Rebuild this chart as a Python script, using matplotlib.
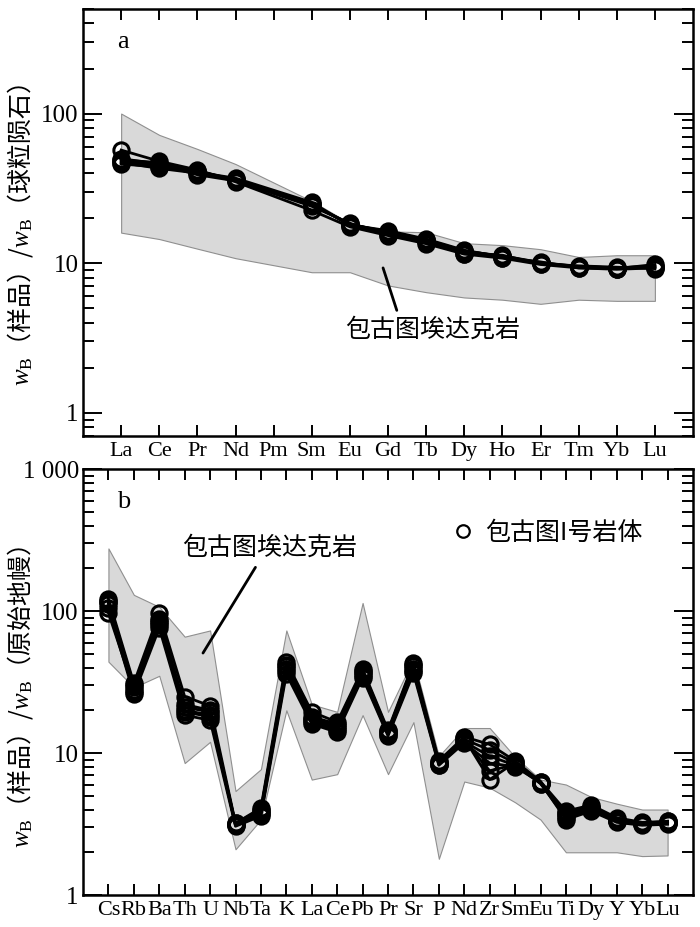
import numpy as np
import matplotlib
matplotlib.use('Agg')
import matplotlib.pyplot as plt
from matplotlib.lines import Line2D
from matplotlib.ticker import FixedLocator, FixedFormatter, LogLocator, NullFormatter

plt.rcParams['font.family'] = ['Liberation Serif', 'Noto Sans CJK SC']
plt.rcParams['mathtext.fontset'] = 'custom'
plt.rcParams['mathtext.it'] = 'Liberation Serif:italic'
plt.rcParams['mathtext.rm'] = 'Liberation Serif'

# ---- panel a: REE, chondrite normalised (Pm has no data) ----
ree = ['La', 'Ce', 'Pr', 'Nd', 'Pm', 'Sm', 'Eu', 'Gd', 'Tb', 'Dy', 'Ho', 'Er', 'Tm', 'Yb', 'Lu']
nan = np.nan
ree_s1 = [57, 48, 42, 35, nan, 22.5, 17.5, 15.3, 13.5, 11.5, 10.8, 9.8, 9.3, 9.1, 9.3]
ree_s2 = [48, 45, 41, 36, nan, 24.5, 18.3, 16.0, 14.2, 12.0, 11.2, 10.1, 9.5, 9.3, 9.6]
ree_s3 = [47, 43, 40, 36.5, nan, 25.0, 18.0, 16.5, 14.5, 12.2, 11.0, 10.0, 9.4, 9.2, 9.8]
ree_s4 = [50, 46, 39, 35.5, nan, 24.0, 18.5, 15.5, 13.8, 11.6, 11.3, 9.9, 9.6, 9.4, 9.2]
ree_s5 = [46, 44, 40.5, 37, nan, 25.5, 17.8, 15.8, 14.0, 11.9, 10.9, 10.2, 9.3, 9.2, 9.5]
ree_s6 = [49, 47, 41.5, 36, nan, 24.8, 18.2, 16.2, 14.3, 12.1, 11.1, 10.0, 9.5, 9.3, 9.4]
ree_hi = [100, 72, 58, 46, nan, 26, 18.5, 16.3, 16.1, 13.6, 13.2, 12.4, 11.0, 11.3, 11.3]
ree_lo = [16, 14.5, 12.5, 10.8, nan, 8.7, 8.7, 7.1, 6.4, 5.9, 5.7, 5.35, 5.7, 5.6, 5.6]

# ---- panel b: spider diagram, primitive mantle normalised ----
spd = ['Cs', 'Rb', 'Ba', 'Th', 'U', 'Nb', 'Ta', 'K', 'La', 'Ce', 'Pb', 'Pr', 'Sr', 'P',
       'Nd', 'Zr', 'Sm', 'Eu', 'Ti', 'Dy', 'Y', 'Yb', 'Lu']
spd_s1 = [122, 31, 97, 25, 21.5, 3.2, 4.1, 44, 19.5, 16.5, 39, 14.5, 43, 8.8, 13.0, 11.5, 8.8, 6.3, 3.9, 4.3, 3.5, 3.25, 3.3]
spd_s2 = [118, 29, 88, 21, 19.5, 3.1, 3.8, 41, 17.5, 15.5, 37, 14.0, 41, 8.5, 12.5, 10.5, 8.5, 6.2, 3.7, 4.1, 3.35, 3.2, 3.25]
spd_s3 = [112, 27, 82, 19.5, 18, 3.15, 3.7, 38, 16.5, 14.5, 35, 13.5, 38, 8.3, 12.0, 9.5, 8.2, 6.1, 3.5, 4.0, 3.3, 3.15, 3.2]
spd_s4 = [105, 26, 76, 18.5, 17, 3.05, 3.6, 36, 16.0, 14.0, 34, 13.2, 36.5, 8.2, 11.8, 8.5, 8.0, 6.2, 3.4, 3.9, 3.25, 3.1, 3.15]
spd_s5 = [97, 28, 80, 20, 18.5, 3.2, 4.0, 39, 17.0, 15.0, 36, 13.8, 39, 8.6, 12.2, 7.5, 8.3, 6.3, 3.6, 4.1, 3.4, 3.2, 3.3]
spd_s6 = [115, 30, 85, 22, 20, 3.1, 3.9, 42, 18.0, 16.0, 38, 14.2, 42, 8.4, 12.7, 6.5, 8.6, 6.1, 3.8, 4.2, 3.3, 3.15, 3.2]
spd_hi = [276, 130, 107, 66, 73, 5.4, 7.7, 73, 22, 19.5, 114, 19.5, 46, 9.5, 15, 15, 9.4, 6.5, 6.0, 4.9, 4.4, 4.0, 4.0]
spd_lo = [44, 29, 35, 8.5, 12, 2.1, 3.4, 20, 6.5, 7.1, 18.5, 7.1, 16.5, 1.8, 6.3, 5.7, 4.5, 3.4, 2.0, 2.0, 2.0, 1.88, 1.9]

field_name = '包古图埃达克岩'
legend_name = '包古图I号岩体'

fig = plt.figure(figsize=(7, 9.27), dpi=100)
ax1 = fig.add_axes([0.1186, 0.5297, 0.8714, 0.4606])
ax2 = fig.add_axes([0.1186, 0.0345, 0.8714, 0.4595])


def draw(ax, names, samples, hi, lo):
    x = np.arange(1, len(names) + 1)
    hi = np.array(hi, float)
    lo = np.array(lo, float)
    ok = ~np.isnan(hi)
    ax.fill_between(x[ok], lo[ok], hi[ok], facecolor='#d9d9d9', edgecolor='#8f8f8f', lw=0.8, zorder=1)
    for s in samples:
        s = np.array(s, float)
        m = ~np.isnan(s)
        ax.plot(x[m], s[m], '-o', color='black', lw=2.0, ms=11, mfc='none', mec='black', mew=2.2, zorder=3)
    ax.set_yscale('log')
    ax.set_xlim(0, len(names) + 1)
    ax.set_xticks(x)
    ax.set_xticklabels(names, fontsize=16)
    ax.tick_params(axis='x', which='major', direction='in', length=8, width=1.4, top=True, pad=4)
    ax.tick_params(axis='y', which='major', direction='in', length=14, width=1.4, right=True, labelsize=18, pad=3)
    ax.tick_params(axis='y', which='minor', direction='in', length=8, width=1.4, right=True)
    ax.yaxis.set_minor_locator(LogLocator(base=10, subs=np.arange(2, 10)))
    ax.yaxis.set_minor_formatter(NullFormatter())
    for sp in ax.spines.values():
        sp.set_linewidth(1.8)


draw(ax1, ree, [ree_s1, ree_s2, ree_s3, ree_s4, ree_s5, ree_s6], ree_hi, ree_lo)
ax1.set_ylim(0.7, 500)
ax1.yaxis.set_major_locator(FixedLocator([1, 10, 100]))
ax1.yaxis.set_major_formatter(FixedFormatter(['1', '10', '100']))

draw(ax2, spd, [spd_s1, spd_s2, spd_s3, spd_s4, spd_s5, spd_s6], spd_hi, spd_lo)
ax2.set_ylim(1, 1000)
ax2.yaxis.set_major_locator(FixedLocator([1, 10, 100, 1000]))
ax2.yaxis.set_major_formatter(FixedFormatter(['1', '10', '100', '1 000']))

ylab_font = dict(family=['Noto Sans CJK SC', 'DejaVu Sans'], fontsize=18)
ax1.set_ylabel('$w_{\\rm B}$（样品）/$w_{\\rm B}$（球粒陨石）', **ylab_font)
ax2.set_ylabel('$w_{\\rm B}$（样品）/$w_{\\rm B}$（原始地幔）', **ylab_font)
ax1.yaxis.set_label_coords(-0.078, 0.47)
ax2.yaxis.set_label_coords(-0.078, 0.465)

ax1.text(0.066, 0.923, 'a', transform=ax1.transAxes, fontsize=19, ha='center', va='center')
ax2.text(0.066, 0.922, 'b', transform=ax2.transAxes, fontsize=19, ha='center', va='center')

cjk = ['Noto Sans CJK SC', 'DejaVu Sans']
ax1.annotate(field_name, xy=(7.87, 9.3), xytext=(9.16, 3.57), ha='center', va='center',
             fontsize=18, family=cjk,
             arrowprops=dict(arrowstyle='-', lw=2, color='black', relpos=(0.31, 1.0), shrinkA=3, shrinkB=0))
ax2.annotate(field_name, xy=(4.72, 50.6), xytext=(7.35, 278), ha='center', va='center',
             fontsize=18, family=cjk,
             arrowprops=dict(arrowstyle='-', lw=2, color='black', relpos=(0.44, 0.0), shrinkA=3, shrinkB=0))

h = Line2D([], [], ls='none', marker='o', ms=9, mfc='none', mec='black', mew=1.6)
ax2.legend(handles=[h], labels=[legend_name], loc='center left', bbox_to_anchor=(0.565, 0.85),
           frameon=False, handlelength=1.0, handletextpad=0.4, prop=dict(family=cjk, size=18))

fig.savefig('out.png', dpi=100)
